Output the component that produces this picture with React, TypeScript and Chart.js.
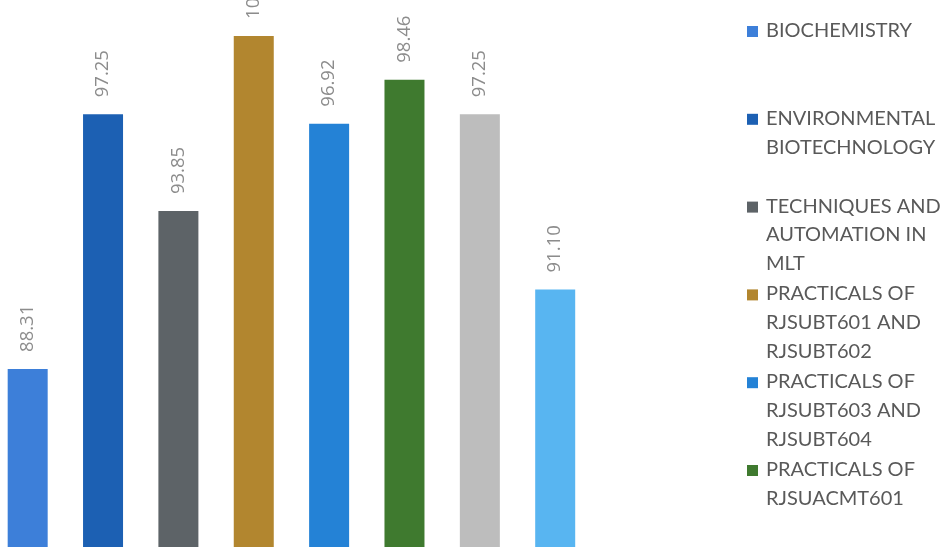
import React, { useEffect, useRef } from "react";
import { Chart, registerables } from "chart.js";

Chart.register(...registerables);

const categories: string[][] = [
  ["BIOCHEMISTRY"],
  ["ENVIRONMENTAL", "BIOTECHNOLOGY"],
  ["TECHNIQUES AND", "AUTOMATION IN", "MLT"],
  ["PRACTICALS OF", "RJSUBT601 AND", "RJSUBT602"],
  ["PRACTICALS OF", "RJSUBT603 AND", "RJSUBT604"],
  ["PRACTICALS OF", "RJSUACMT601"],
  ["PRACTICALS OF", "RJSUACMT602"],
  ["PROJECT"],
];

const values: number[] = [88.31, 97.25, 93.85, 100.0, 96.92, 98.46, 97.25, 91.1];

const colors: string[] = [
  "#3d7fd9",
  "#1c60b3",
  "#5d6367",
  "#b2862f",
  "#2482d6",
  "#3f7a2f",
  "#bdbdbd",
  "#58b5f1",
];

// visible (cropped) value range of the axis
const yMin = 82.06;
const yMax = 101.26;

const W = 953;
const H = 547;
const SHIFT = 10;

const bgPlugin = {
  id: "bg",
  beforeDraw(chart: any) {
    const ctx = chart.ctx;
    ctx.save();
    ctx.fillStyle = "#ffffff";
    ctx.fillRect(0, 0, chart.width, chart.height);
    ctx.restore();
  },
};

const valueLabelPlugin = {
  id: "valueLabels",
  afterDatasetsDraw(chart: any) {
    const ctx = chart.ctx;
    const meta = chart.getDatasetMeta(0);
    const data = chart.data.datasets[0].data as number[];
    ctx.save();
    ctx.font = "normal 400 18.5px 'Open Sans', sans-serif";
    ctx.fillStyle = "#8c8c8c";
    ctx.textAlign = "left";
    ctx.textBaseline = "middle";
    meta.data.forEach((el: any, i: number) => {
      ctx.save();
      ctx.translate(el.x, el.y - 17);
      ctx.rotate(-Math.PI / 2);
      ctx.fillText(Number(data[i]).toFixed(2), 0, 0);
      ctx.restore();
    });
    ctx.restore();
  },
};

const legendPlugin = {
  id: "sideLegend",
  afterDraw(chart: any) {
    const ctx = chart.ctx;
    const labels = chart.data.labels as string[][];
    const bg = chart.data.datasets[0].backgroundColor as string[];
    const x0 = 747 + SHIFT;
    const tx = 766 + SHIFT;
    const slot = 87.8;
    const lh = 28.8;
    ctx.save();
    ctx.font = "20px Lato";
    ctx.textAlign = "left";
    ctx.textBaseline = "alphabetic";
    labels.forEach((lines, i) => {
      const base = 30 + i * slot + 7;
      ctx.fillStyle = bg[i];
      ctx.fillRect(x0, base - 11, 11, 11);
      ctx.fillStyle = "#595959";
      lines.forEach((ln, j) => {
        ctx.fillText(ln, tx, base + j * lh);
      });
    });
    ctx.restore();
  },
};

export default function App() {
  const ref = useRef<HTMLCanvasElement | null>(null);

  useEffect(() => {
    if (!ref.current) return;
    const plotWidth = 8 * 75.36;
    const chart = new Chart(ref.current, {
      type: "bar",
      data: {
        labels: categories,
        datasets: [
          {
            data: values,
            backgroundColor: colors,
            borderWidth: 0,
            barPercentage: 40 / 75.36,
            categoryPercentage: 1,
          },
        ],
      },
      options: {
        responsive: false,
        animation: false,
        devicePixelRatio: 1,
        layout: { padding: { left: 0, top: 0, bottom: 0, right: W - plotWidth } },
        plugins: {
          legend: { display: false },
          tooltip: { enabled: false },
        },
        scales: {
          x: { display: false, grid: { display: false } },
          y: { display: false, min: yMin, max: yMax, grid: { display: false } },
        },
      },
      plugins: [bgPlugin, valueLabelPlugin, legendPlugin],
    });
    return () => chart.destroy();
  }, []);

  return (
    <div
      style={{
        position: "fixed",
        left: -SHIFT,
        top: 0,
        width: W,
        height: H,
        overflow: "hidden",
        background: "#fff",
      }}
    >
      <canvas ref={ref} width={W} height={H} style={{ display: "block" }} />
    </div>
  );
}
